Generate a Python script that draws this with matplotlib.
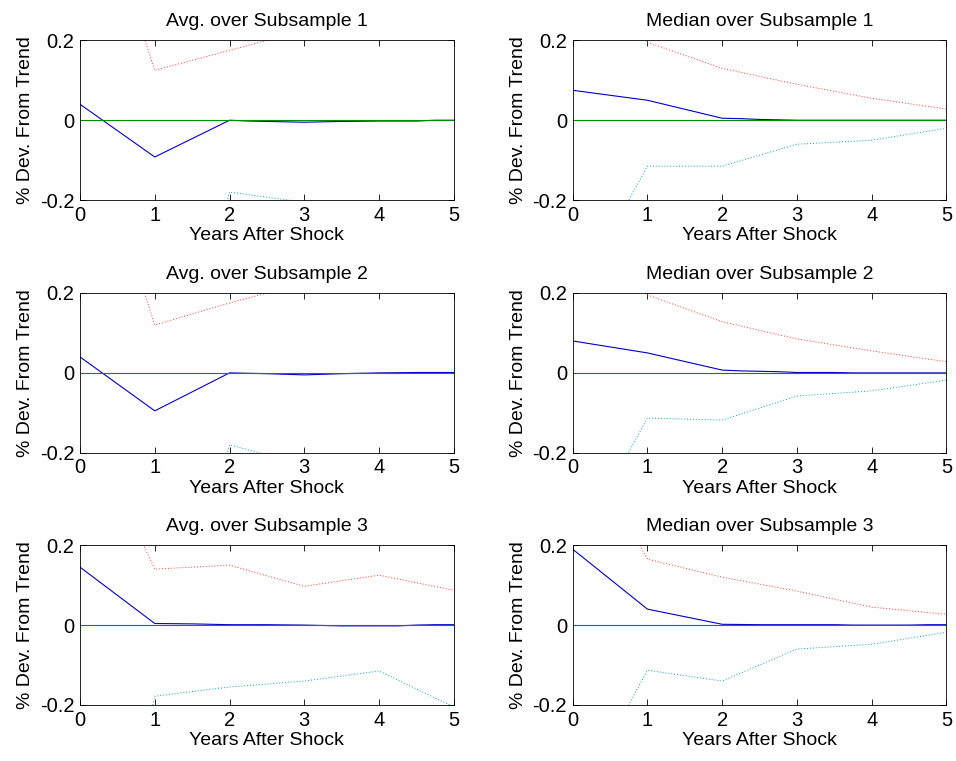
import matplotlib

matplotlib.use("Agg")
import matplotlib.pyplot as plt

plt.rcParams["font.family"] = ["Liberation Sans", "DejaVu Sans"]
plt.rcParams["font.size"] = 14

TITLES = [
    "Avg. over Subsample 1", "Median over Subsample 1",
    "Avg. over Subsample 2", "Median over Subsample 2",
    "Avg. over Subsample 3", "Median over Subsample 3",
]

YEARS = [0, 1, 2, 3, 4, 5]

# point estimate (blue), read per panel at its kinks
avg1_x = [0, 1, 2, 2.25, 2.5, 3, 3.5, 4, 4.5, 4.75, 5]
avg1_y = [0.04, -0.092, 0.0, -0.002, -0.003, -0.005, -0.003, -0.002, -0.002, 0.0, 0.0]
med1_x = [0, 1, 2, 2.25, 2.5, 2.75, 3, 5]
med1_y = [0.075, 0.05, 0.005, 0.004, 0.002, 0.001, 0.0, 0.0]
avg2_x = [0, 1, 2, 2.25, 2.5, 3, 3.5, 3.75, 4, 4.5, 5]
avg2_y = [0.04, -0.095, 0.0, -0.001, -0.002, -0.005, -0.002, -0.001, 0.0, 0.001, 0.001]
med2_x = [0, 1, 2, 2.25, 2.75, 3, 3.5, 3.75, 5]
med2_y = [0.08, 0.05, 0.007, 0.005, 0.003, 0.001, 0.001, 0.0, 0.0]
avg3_x = [0, 1, 1.5, 2, 2.5, 3, 3.5, 4, 4.25, 4.5, 4.75, 5]
avg3_y = [0.145, 0.004, 0.003, 0.001, 0.001, 0.0, -0.002, -0.002, -0.002, 0.0, 0.001, 0.001]
med3_x = [0, 1, 2, 2.5, 3.5, 3.75, 4.5, 4.75, 5]
med3_y = [0.19, 0.04, 0.002, 0.001, 0.001, 0.0, 0.0, 0.001, 0.001]

# confidence bands (yearly)
avg1_hi = [0.7, 0.125, 0.175, 0.225, 0.25, 0.26]
avg1_lo = [-0.95, -0.9, -0.18, -0.205, -0.22, -0.23]
med1_hi = [0.4, 0.195, 0.13, 0.09, 0.055, 0.028]
med1_lo = [-0.455, -0.115, -0.115, -0.06, -0.05, -0.02]
avg2_hi = [0.7, 0.12, 0.175, 0.225, 0.25, 0.26]
avg2_lo = [-0.95, -0.9, -0.18, -0.23, -0.24, -0.25]
med2_hi = [0.4, 0.195, 0.128, 0.085, 0.055, 0.028]
med2_lo = [-0.455, -0.113, -0.118, -0.058, -0.045, -0.018]
avg3_hi = [0.54, 0.14, 0.15, 0.097, 0.125, 0.087]
avg3_lo = [-1.0, -0.178, -0.155, -0.14, -0.115, -0.205]
med3_hi = [0.515, 0.165, 0.12, 0.085, 0.045, 0.027]
med3_lo = [-0.46, -0.113, -0.14, -0.06, -0.048, -0.018]

PANELS = [
    (avg1_x, avg1_y, avg1_hi, avg1_lo),
    (med1_x, med1_y, med1_hi, med1_lo),
    (avg2_x, avg2_y, avg2_hi, avg2_lo),
    (med2_x, med2_y, med2_hi, med2_lo),
    (avg3_x, avg3_y, avg3_hi, avg3_lo),
    (med3_x, med3_y, med3_hi, med3_lo),
]

fig = plt.figure(figsize=(9.56, 7.61), dpi=100)

lefts = [0.0837, 0.599]
bottoms = [0.737, 0.405, 0.0736]
width, height = 0.391, 0.210

for idx, (bx, by, hi, lo) in enumerate(PANELS):
    row, col = divmod(idx, 2)
    ax = fig.add_axes([lefts[col], bottoms[row], width, height])

    ax.plot(bx, by, color=(0, 0, 0.8), linewidth=0.8)
    ax.plot(YEARS, hi, color=(1, 0.2, 0.2), linestyle=(0, (1, 2)), linewidth=0.7)
    ax.plot(YEARS, lo, color=(0, 0.65, 0.65), linestyle=(0, (1, 2)), linewidth=0.7)
    ax.axhline(0, color=(0, 0.55, 0), linewidth=0.8)

    ax.set_xlim(0, 5)
    ax.set_ylim(-0.2, 0.2)
    ax.set_xticks(YEARS)
    ax.set_yticks([-0.2, 0, 0.2])
    ax.set_yticklabels(["-0.2", "0", "0.2"])
    ax.tick_params(direction="in", top=True, right=True, length=4, width=0.6,
                   labelsize=14.5)
    ax.tick_params(axis="x", pad=4)
    ax.tick_params(axis="y", pad=4)
    for spine in ax.spines.values():
        spine.set_linewidth(0.6)

    ax.set_title(TITLES[idx], fontsize=14, pad=10)
    ax.set_xlabel("Years After Shock", fontsize=14, labelpad=2)
    ax.set_ylabel("% Dev. From Trend", fontsize=14, labelpad=4)

fig.savefig("out.png", dpi=100)
